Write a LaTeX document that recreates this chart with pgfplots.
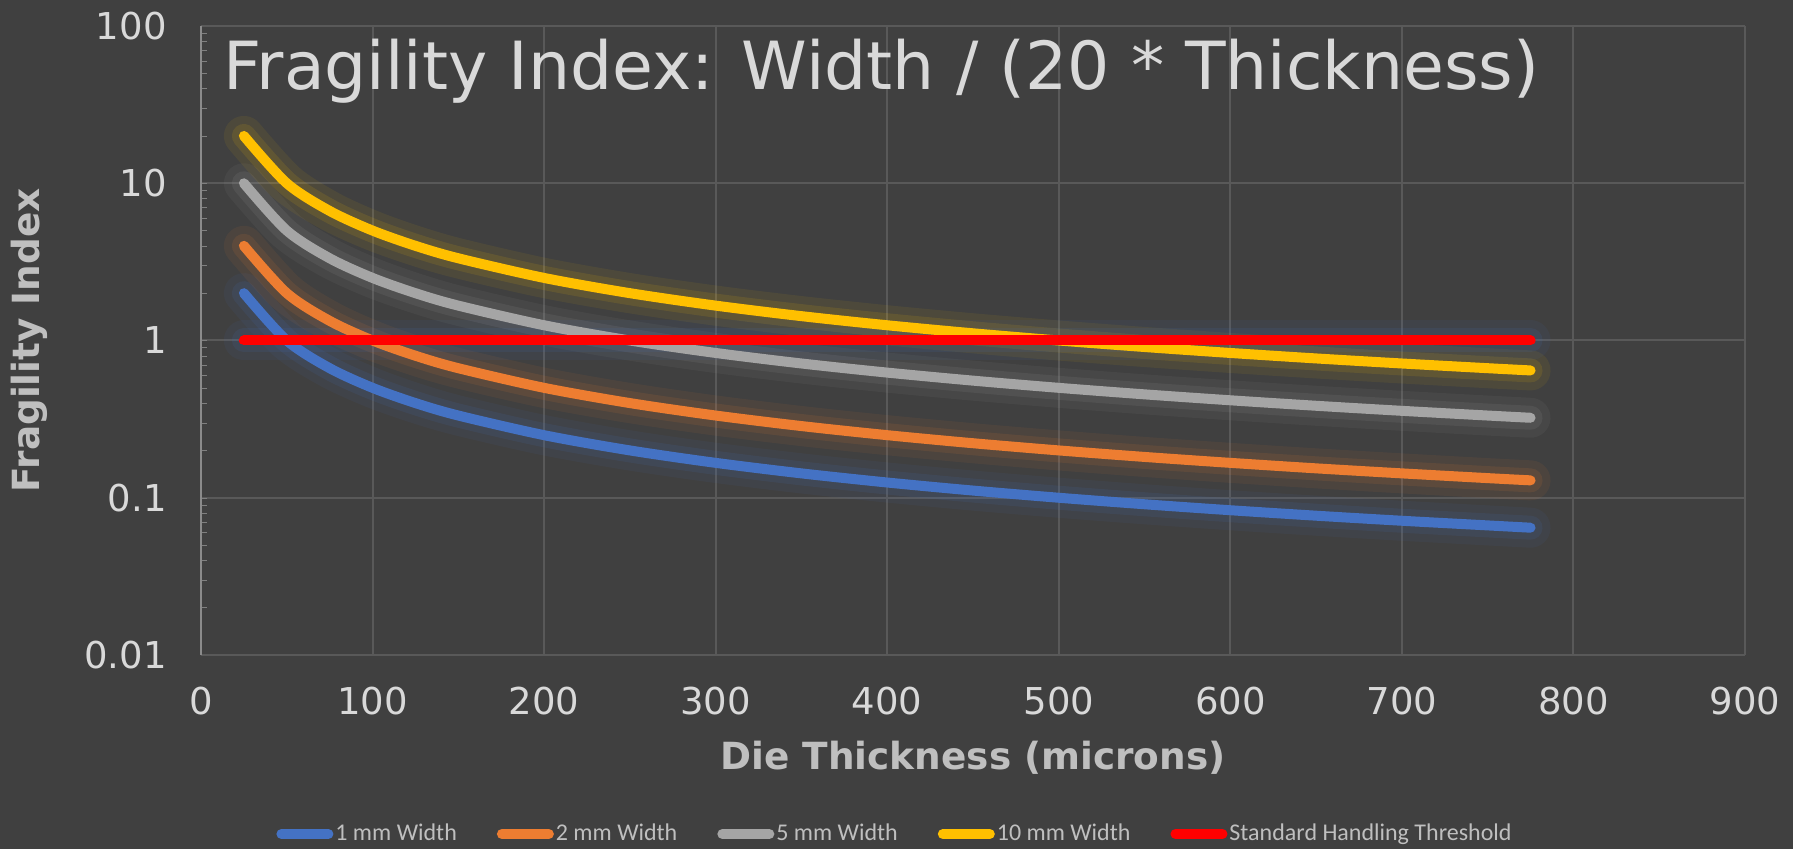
\documentclass[border=0pt]{standalone}
\usepackage{pgfplots}
\pgfplotsset{compat=1.18}
\usepackage{pgfplotstable}
\usepackage{fontspec}
\setmainfont{DejaVu Sans}
\newfontfamily\legfont{Carlito}
\definecolor{bgc}{HTML}{404040}
\definecolor{gridc}{HTML}{595959}
\definecolor{txt}{HTML}{D9D9D9}
\definecolor{lab}{HTML}{BFBFBF}
\definecolor{c1}{HTML}{4472C4}
\definecolor{c2}{HTML}{ED7D31}
\definecolor{c5}{HTML}{A5A5A5}
\definecolor{c10}{HTML}{FFC000}
\definecolor{cr}{HTML}{FF0000}
\pgfplotstableread{
t w1 w2 w5 w10
25 2 4 10 20
50 1 2 5 10
75 0.6667 1.3333 3.3333 6.6667
100 0.5 1 2.5 5
125 0.4 0.8 2 4
150 0.3333 0.6667 1.6667 3.3333
200 0.25 0.5 1.25 2.5
250 0.2 0.4 1 2
300 0.1667 0.3333 0.8333 1.6667
350 0.1429 0.2857 0.7143 1.4286
400 0.125 0.25 0.625 1.25
450 0.1111 0.2222 0.5556 1.1111
500 0.1 0.2 0.5 1
550 0.0909 0.1818 0.4545 0.9091
600 0.0833 0.1667 0.4167 0.8333
650 0.0769 0.1538 0.3846 0.7692
700 0.0714 0.1429 0.3571 0.7143
750 0.0667 0.1333 0.3333 0.6667
775 0.0645 0.1290 0.3226 0.6452
}\data
\pgfplotstableread{
t r
25 1
775 1
}\thr
\begin{document}
\begin{tikzpicture}
\fill[bgc] (-100.5pt,-97pt) rectangle (796pt,327.5pt);
\begin{axis}[
  at={(0pt,0pt)}, anchor=south west,
  scale only axis, width=772pt, height=314.5pt,
  ymode=log, xmin=0, xmax=900, ymin=0.01, ymax=100,
  xtick={0,100,...,900},
  xticklabels={0,100,200,300,400,500,600,700,800,900},
  ytick={0.01,0.1,1,10,100},
  yticklabels={0.01,0.1,1,10,100},
  minor tick num=0, minor ytick={},
  major tick length=0pt,
  /pgf/number format/assume math mode=true,
  grid=major,
  major grid style={gridc, line width=1pt},
  axis line style={gridc, line width=1pt},
  axis x line*=bottom, axis y line*=left,
  separate axis lines,
  y axis line style={color=gridc!70!white},
  tick label style={font=\fontsize{18.5}{21}\selectfont, text=txt, inner sep=0pt},
  xticklabel style={anchor=center, yshift=-23pt},
  yticklabel style={anchor=east, xshift=-17pt},
  xlabel={Die Thickness (microns)},
  ylabel={Fragility Index},
  label style={font=\fontsize{18.7}{22}\selectfont\bfseries, text=lab},
  xlabel style={at={(axis description cs:0.5,-0.1637)}, anchor=center},
  ylabel style={at={(axis description cs:-0.1114,0.5)}, anchor=center, rotate=0},
  legend columns=5,
  legend style={at={(axis description cs:0.4495,-0.2846)}, anchor=center,
    draw=none, fill=none, text=lab, font=\legfont\fontsize{12}{14}\selectfont,
    /tikz/every even column/.append style={column sep=19pt},
    nodes={inner sep=1pt}},
  legend cell align=left,
  legend image code/.code={\draw[line width=5pt, line cap=round] (2.5pt,0pt) -- (26pt,0pt);},
  every axis plot/.append style={line cap=round, line join=round},
  glowA/.style={line width=20pt, opacity=0.07, forget plot, smooth, tension=0.5},
  glowB/.style={line width=12pt, opacity=0.11, forget plot, smooth, tension=0.5},
  main/.style={line width=5pt, smooth, tension=0.5},
]
\addplot[glowA, c1] table[x=t,y=w1] {\data};
\addplot[glowB, c1] table[x=t,y=w1] {\data};
\addplot[glowA, c2] table[x=t,y=w2] {\data};
\addplot[glowB, c2] table[x=t,y=w2] {\data};
\addplot[glowA, c5] table[x=t,y=w5] {\data};
\addplot[glowB, c5] table[x=t,y=w5] {\data};
\addplot[glowA, c10] table[x=t,y=w10] {\data};
\addplot[glowB, c10] table[x=t,y=w10] {\data};
\addplot[glowA, c1] table[x=t,y=r] {\thr};
\addplot[glowB, c1] table[x=t,y=r] {\thr};
\addplot[main, c1] table[x=t,y=w1] {\data};
\addlegendentry{1 mm Width}
\addplot[main, c2] table[x=t,y=w2] {\data};
\addlegendentry{2 mm Width}
\addplot[main, c5] table[x=t,y=w5] {\data};
\addlegendentry{5 mm Width}
\addplot[main, c10] table[x=t,y=w10] {\data};
\addlegendentry{10 mm Width}
\addplot[main, cr] table[x=t,y=r] {\thr};
\addlegendentry{Standard Handling Threshold}
\node[anchor=west, text=txt, font=\fontsize{33.2}{36}\selectfont, inner sep=0pt] at (axis description cs:0.0142,0.9285) {Fragility Index: Width / (20 * Thickness)};
\end{axis}
\pgfresetboundingbox
\path (-100.5pt,-97pt) rectangle (796pt,327.5pt);
\end{tikzpicture}
\end{document}
